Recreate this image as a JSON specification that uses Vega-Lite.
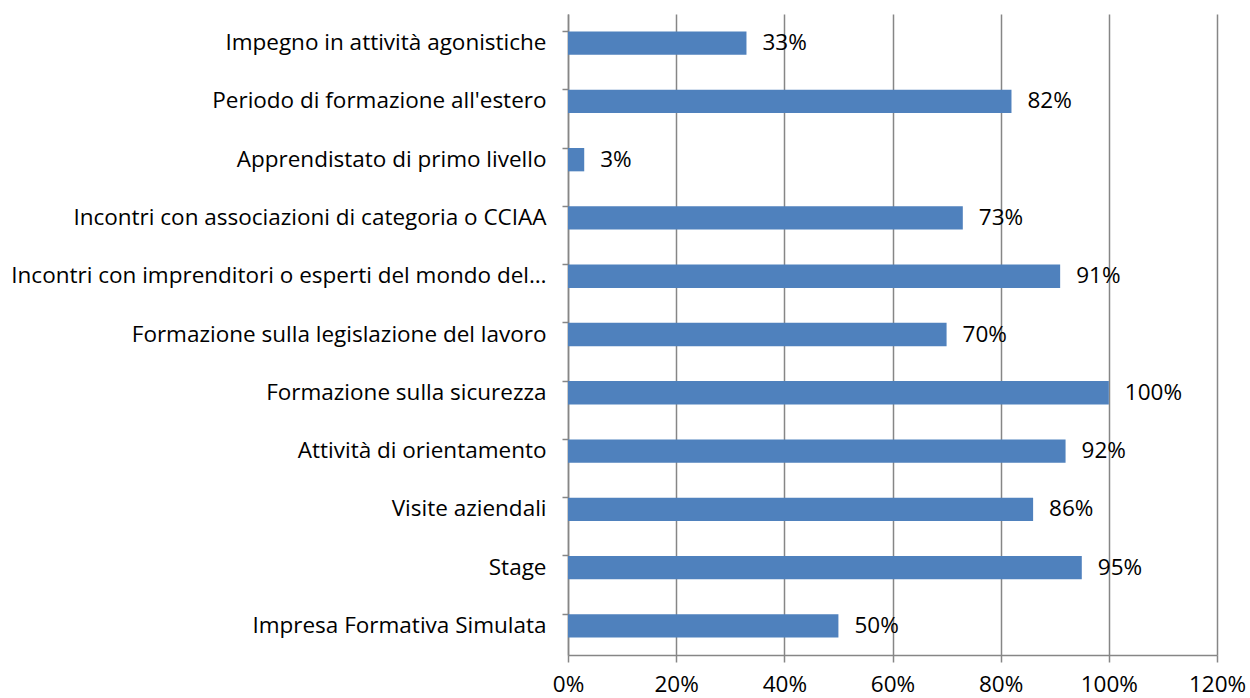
{
  "$schema": "https://vega.github.io/schema/vega-lite/v6.json",
  "autosize": {"type": "none"},
  "width": 649,
  "height": 641,
  "padding": {"left": 568, "top": 14, "right": 33, "bottom": 43},
  "background": "white",
  "config": {
    "view": {"stroke": null},
    "font": "Open Sans"
  },
  "data": {
    "values": [
      {"cat": "Impegno in attività agonistiche", "v": 0.33},
      {"cat": "Periodo di formazione all'estero", "v": 0.82},
      {"cat": "Apprendistato di primo livello", "v": 0.03},
      {"cat": "Incontri con associazioni di categoria o CCIAA", "v": 0.73},
      {"cat": "Incontri con imprenditori o esperti del mondo del…", "v": 0.91},
      {"cat": "Formazione sulla legislazione del lavoro", "v": 0.70},
      {"cat": "Formazione sulla sicurezza", "v": 1.00},
      {"cat": "Attività di orientamento", "v": 0.92},
      {"cat": "Visite aziendali", "v": 0.86},
      {"cat": "Stage", "v": 0.95},
      {"cat": "Impresa Formativa Simulata", "v": 0.50}
    ]
  },
  "encoding": {
    "y": {
      "field": "cat",
      "type": "nominal",
      "sort": null,
      "scale": {"paddingInner": 0.6, "paddingOuter": 0.3},
      "axis": {
        "title": null,
        "labelFontSize": 22.5,
        "labelColor": "#000000",
        "labelLimit": 0,
        "labelPadding": 16,
        "tickSize": 6,
        "tickColor": "#868686",
        "tickWidth": 1.5,
        "bandPosition": 0,
        "domainColor": "#868686",
        "domainWidth": 1.5,
        "grid": false
      }
    },
    "x": {
      "field": "v",
      "type": "quantitative",
      "scale": {"domain": [0, 1.2], "nice": false},
      "axis": {
        "title": null,
        "format": ".0%",
        "values": [0, 0.2, 0.4, 0.6, 0.8, 1.0, 1.2],
        "labelFontSize": 22.5,
        "labelColor": "#000000",
        "labelFlush": false,
        "labelOverlap": false,
        "labelPadding": 11,
        "tickSize": 7,
        "tickColor": "#868686",
        "tickWidth": 1.5,
        "domainColor": "#868686",
        "domainWidth": 1.5,
        "grid": true,
        "gridColor": "#868686",
        "gridWidth": 1.5
      }
    }
  },
  "layer": [
    {"mark": {"type": "bar", "color": "#4F81BD"}},
    {
      "mark": {"type": "text", "align": "left", "dx": 16, "fontSize": 22.5, "color": "#000000", "baseline": "middle"},
      "encoding": {"text": {"field": "v", "type": "quantitative", "format": ".0%"}}
    }
  ]
}
